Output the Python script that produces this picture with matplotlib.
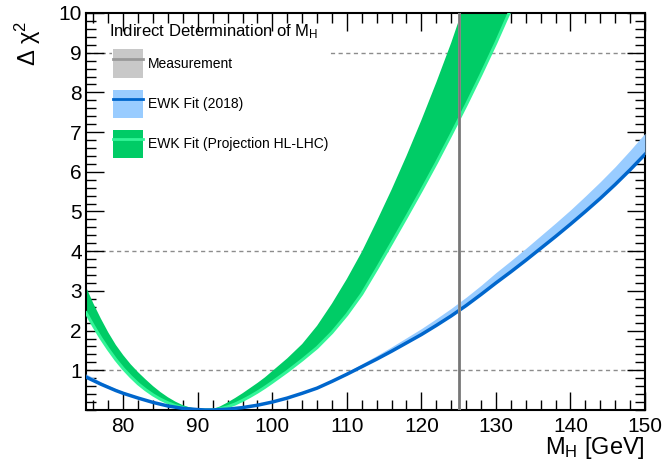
import matplotlib
matplotlib.use("Agg")
from matplotlib import pyplot as plt
from matplotlib.lines import Line2D
from matplotlib.patches import Patch
from matplotlib.ticker import MultipleLocator
import numpy as np

plt.rcParams["font.family"] = ["Liberation Sans", "DejaVu Sans"]
plt.rcParams["mathtext.fontset"] = "custom"
plt.rcParams["mathtext.rm"] = "Liberation Sans"
plt.rcParams["mathtext.it"] = "Liberation Sans"
plt.rcParams["mathtext.default"] = "regular"

# EWK fit (2018): line + band upper edge
blue_m = [75, 76, 77, 78, 79, 80, 82, 84, 86, 88, 90, 91, 92, 94, 96, 98, 100, 102, 104,
          106, 108, 110, 112, 114, 116, 118, 120, 122, 124, 126, 128, 130, 132, 134, 136,
          138, 140, 142, 144, 146, 148, 150]
blue_fit = [0.83, 0.74, 0.65, 0.57, 0.49, 0.42, 0.30, 0.19, 0.10, 0.04, 0.01, 0.0, 0.0, 0.02,
            0.06, 0.12, 0.20, 0.30, 0.42, 0.55, 0.72, 0.90, 1.09, 1.28, 1.48, 1.69, 1.90,
            2.13, 2.37, 2.63, 2.91, 3.20, 3.48, 3.77, 4.07, 4.37, 4.68, 5.00, 5.33, 5.68,
            6.05, 6.44]
blue_hi = [0.91, 0.81, 0.71, 0.62, 0.535, 0.46, 0.33, 0.21, 0.11, 0.04, 0.01, 0.0, 0.0, 0.02,
           0.06, 0.12, 0.20, 0.305, 0.43, 0.57, 0.75, 0.95, 1.16, 1.37, 1.59, 1.82, 2.05,
           2.30, 2.56, 2.84, 3.14, 3.46, 3.76, 4.07, 4.39, 4.71, 5.04, 5.39, 5.75, 6.13,
           6.54, 6.97]

# EWK fit (projection HL-LHC): upper edge of band and lower edge (light line)
green_up_m = [75, 76, 77, 78, 79, 80, 81, 82, 83, 84, 85, 86, 87, 88, 89, 90, 91, 92, 93,
              94, 95, 96, 97, 98, 99, 100, 102, 104, 106, 108, 110, 112, 114, 116, 118, 120,
              122, 124, 126, 128]
green_up = [3.10, 2.68, 2.30, 1.95, 1.64, 1.38, 1.15, 0.95, 0.77, 0.60, 0.45, 0.32, 0.21,
            0.12, 0.06, 0.02, 0.0, 0.02, 0.09, 0.19, 0.30, 0.42, 0.55, 0.68, 0.82, 0.98,
            1.30, 1.66, 2.12, 2.68, 3.30, 3.98, 4.75, 5.55, 6.40, 7.30, 8.25, 9.25, 10.35,
            11.5]
green_lo_m = [75, 76, 77, 78, 79, 80, 81, 82, 83, 84, 85, 86, 87, 88, 89, 90, 91, 92, 93,
              94, 95, 96, 97, 98, 99, 100, 102, 104, 106, 108, 110, 112, 114, 116, 118, 120,
              122, 124, 126, 128, 130, 132]
green_lo = [2.45, 2.12, 1.81, 1.53, 1.27, 1.04, 0.84, 0.66, 0.51, 0.38, 0.27, 0.18, 0.11,
            0.06, 0.02, 0.0, 0.0, 0.0, 0.03, 0.08, 0.15, 0.24, 0.34, 0.45, 0.57, 0.70, 0.97,
            1.26, 1.57, 1.95, 2.40, 2.92, 3.55, 4.20, 4.86, 5.53, 6.22, 6.94, 7.68, 8.45,
            9.25, 10.1]

mh_meas = 125.1
mh_meas_err = 0.24
dchi2_lines = [1, 4, 9]

fig = plt.figure(figsize=(6.66, 4.67), dpi=100)
ax = fig.add_axes([0.1291, 0.1221, 0.8394, 0.8501])

for lvl in dchi2_lines:
    ax.axhline(lvl, color="#8c8c8c", lw=1, ls=(0, (3, 2.5)), zorder=1)

# green band
poly_x = np.concatenate([green_up_m, green_lo_m[::-1]])
poly_y = np.concatenate([green_up, green_lo[::-1]])
ax.fill(poly_x, poly_y, color="#00cc66", lw=0, zorder=2)
ax.plot(green_lo_m, green_lo, color="#33f598", lw=2.2, zorder=3)

# blue band + line
ax.fill_between(blue_m, blue_fit, blue_hi, color="#99ccff", lw=0, zorder=4)
ax.plot(blue_m, blue_fit, color="#0066cc", lw=2.5, zorder=5)

# measurement
ax.axvspan(mh_meas - mh_meas_err, mh_meas + mh_meas_err, color="#b4b4b4", lw=0, zorder=6)
ax.axvline(mh_meas, color="#777777", lw=1.8, zorder=7)

ax.set_xlim(75, 150)
ax.set_ylim(0, 10)
ax.xaxis.set_major_locator(MultipleLocator(10))
ax.xaxis.set_minor_locator(MultipleLocator(2))
ax.set_yticks(range(1, 11))
ax.yaxis.set_minor_locator(MultipleLocator(0.2))
ax.tick_params(which="both", direction="in", top=True, right=True, width=1, labelsize=15)
ax.tick_params(which="major", length=13)
ax.tick_params(which="minor", length=7)
ax.tick_params(axis="y", pad=3)
ax.tick_params(axis="x", pad=5)
for sp in ax.spines.values():
    sp.set_linewidth(1.5)

ax.set_xlabel("M$_{H}$ [GeV]", fontsize=17, loc="right")
ax.xaxis.set_label_coords(1.0, -0.062)
ax.set_ylabel("Δ χ$^{2}$", fontsize=17, loc="top")
ax.yaxis.set_label_coords(-0.076, 0.98)

handles = [
    (Patch(fc="#c8c8c8", ec="none"), Line2D([], [], color="#999999", lw=2)),
    (Patch(fc="#99ccff", ec="none"), Line2D([], [], color="#0066cc", lw=2)),
    (Patch(fc="#00cc66", ec="none"), Line2D([], [], color="#33f598", lw=2)),
]
labels = ["Measurement", "EWK Fit (2018)", "EWK Fit (Projection HL-LHC)"]
leg = ax.legend(handles, labels, loc="upper left", bbox_to_anchor=(0.0465, 0.912),
                fontsize=10, frameon=True, facecolor="white", edgecolor="none",
                framealpha=1, fancybox=False, borderpad=0.1, borderaxespad=0,
                handlelength=2.16, handleheight=2.8, labelspacing=0.83,
                handletextpad=0.36)
leg.set_zorder(10)
ax.text(0.041, 0.942, "Indirect Determination of M$_{H}$", transform=ax.transAxes,
        fontsize=12, ha="left", va="baseline", zorder=11)

plt.savefig("out.png", dpi=100)
plt.close()
